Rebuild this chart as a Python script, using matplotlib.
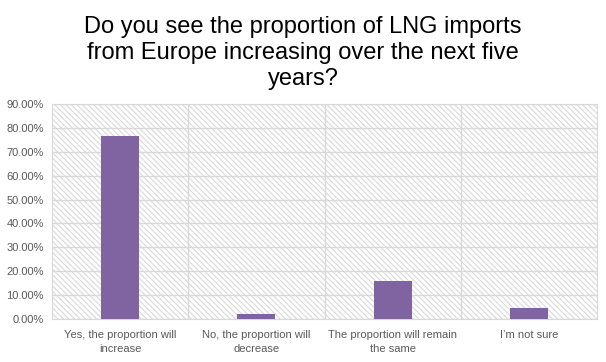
import matplotlib
matplotlib.use("Agg")
import matplotlib.pyplot as plt
from matplotlib.ticker import FuncFormatter, MultipleLocator

# Donnees
categories = ["Yes, the proportion will\nincrease",
              "No, the proportion will\ndecrease",
              "The proportion will remain\nthe same",
              "I\u2019m not sure"]
valeurs = [76.6, 2.1, 15.9, 4.6]

titre = "Do you see the proportion of LNG imports\nfrom Europe increasing over the next five\nyears?"

plt.rcParams["font.family"] = ["Liberation Sans", "DejaVu Sans"]
plt.rcParams["hatch.color"] = "#d9d9d9"
plt.rcParams["hatch.linewidth"] = 0.8

fig = plt.figure(figsize=(6.06, 3.62), dpi=100)
ax = fig.add_axes([52 / 606, 1 - 319 / 362, 545 / 606, 215 / 362])

# Fond hachure
ax.set_facecolor("white")
ax.add_patch(plt.Rectangle((0, 0), 1, 1, transform=ax.transAxes, facecolor="white",
                           edgecolor="#d9d9d9", hatch="\\\\\\\\\\\\", linewidth=0, zorder=0))

x = list(range(len(categories)))
ax.bar(x, valeurs, width=0.28, color="#8064a2", zorder=3)

ax.set_xlim(-0.5, len(categories) - 0.5)
ax.set_ylim(0, 90)
ax.yaxis.set_major_locator(MultipleLocator(10))
ax.yaxis.set_major_formatter(FuncFormatter(lambda v, p: f"{v:.2f}%"))
ax.grid(axis="y", color="#d9d9d9", linewidth=1, zorder=1)
ax.set_axisbelow(True)
for xv in [0.5, 1.5, 2.5]:
    ax.axvline(xv, color="#d9d9d9", linewidth=1, zorder=1)

ax.set_xticks(x)
ax.set_xticklabels(categories, fontsize=8, color="#595959", linespacing=1.5)
ax.tick_params(axis="y", labelsize=8, labelcolor="#595959", length=0, pad=6)
ax.tick_params(axis="x", length=0, pad=8)
for s in ["top", "right", "left", "bottom"]:
    ax.spines[s].set_color("#d9d9d9")

fig.text(0.5, 1 - 53 / 362, titre, ha="center", va="center", fontsize=17,
         color="#000000", linespacing=1.25)

plt.savefig("out.png", dpi=100)
